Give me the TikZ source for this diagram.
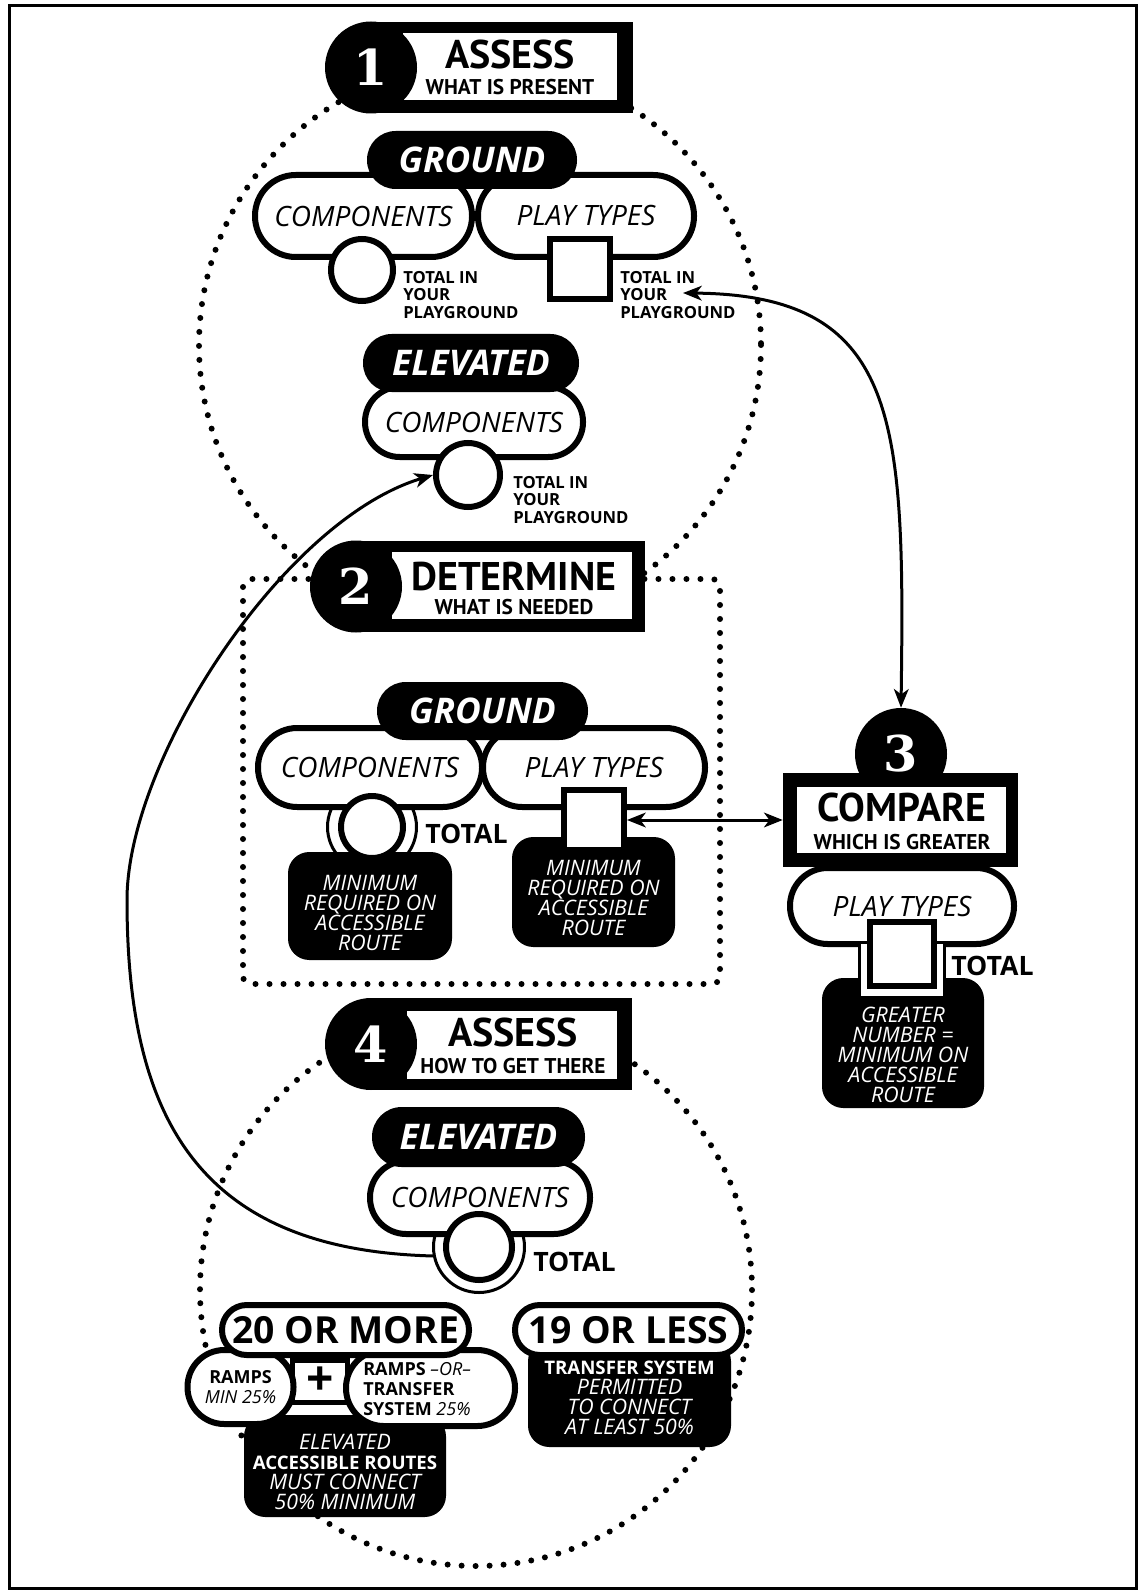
\documentclass[tikz,border=0pt]{standalone}
\usepackage{fontspec}
\setmainfont{Open Sans}
\newfontfamily\hdfont{PT Sans}
\newfontfamily\numfont{DejaVu Serif}
\usetikzlibrary{arrows.meta}

\begin{document}
\begin{tikzpicture}[x=0.75pt,y=0.75pt,yscale=-1,xscale=1,
  >={Stealth[length=14pt,width=11pt,inset=4pt]},
  dots/.style={line width=4.5pt, line cap=round, dash pattern=on 0pt off 10.5pt},
  conn/.style={line width=2.25pt},
  numdisc/.style={circle, fill=black, text=white, inner sep=0pt, minimum size=69pt, font=\numfont\bfseries\fontsize{37}{37}\selectfont},
  hdbig/.style={inner sep=0pt, font=\hdfont\bfseries\fontsize{30}{30}\selectfont},
  hdsub/.style={inner sep=0pt, font=\hdfont\bfseries\fontsize{16}{16}\selectfont},
  pillw/.style 2 args={rectangle, draw, fill=white, line width=4.5pt, inner sep=0pt, minimum width=#1, minimum height=#2, rounded corners=#2/2-0.2pt, font=\itshape\fontsize{21}{21}\selectfont},
  tag/.style 2 args={rectangle, fill=black, text=white, inner sep=0pt, minimum width=#1, minimum height=#2, rounded corners=#2/2-0.2pt, font=\bfseries\itshape\fontsize{26.5}{26.5}\selectfont},
  count/.style 2 args={pillw={#1}{#2}, font=\bfseries\fontsize{28}{28}\selectfont},
  dotc/.style={circle, draw, fill=white, line width=4.5pt, inner sep=0pt},
  ringc/.style={circle, draw, fill=white, line width=2.25pt, inner sep=0pt},
  boxw/.style={rectangle, draw, fill=white, line width=4.5pt, inner sep=0pt},
  notebox/.style={rectangle, fill=black, rounded corners=16pt, inner sep=0pt},
  note/.style={text=white, align=center, inner sep=0pt, font=\itshape\fontsize{16}{15}\selectfont},
  small/.style={anchor=north west, align=left, inner sep=0pt, font=\bfseries\fontsize{12.5}{13}\selectfont},
  total/.style={anchor=west, inner sep=0pt, font=\bfseries\fontsize{20}{20}\selectfont}]
\useasboundingbox (0,0) rectangle (1144,1594);

%Frame
\draw[line width=2.25pt] (9,6) rectangle (1136,1588);

%Dotted outlines
\draw[dots] (480,345) circle [radius=281];
\draw[dots, rounded corners=6pt] (243,579) rectangle (720,984);
\draw[dots] (476,1290) circle [radius=276];

%Header 1
\fill (371,22) rectangle (633,113);
\fill[white] (403,33) rectangle (617,100);
\node[numdisc] (n1) at (371,67.5) {1};
\node[hdbig] (hd1a) at (510,55) {ASSESS};
\node[hdsub] (hd1b) at (510,87.5) {WHAT IS PRESENT};

%Step 1 ground
\node[pillw={162.75pt}{61.5pt}] (gc1) at (363.5,216) {COMPONENTS};
\node[pillw={162pt}{61.5pt}] (gp1) at (586,216) {PLAY TYPES};
\node[tag={157.5pt}{43.5pt}] (g1) at (472,160) {GROUND};
\node[dotc, minimum size=46.5pt] (c1) at (362,270) {};
\node[boxw, minimum size=45pt] (sq1) at (580,269.5) {};
\node[small] (t1a) at (403,271) {TOTAL IN\\YOUR\\PLAYGROUND};
\node[small] (t1b) at (620,271) {TOTAL IN\\YOUR\\PLAYGROUND};
\coordinate (yourpt) at (683,293);

%Step 1 elevated
\node[pillw={163.5pt}{52.5pt}] (ec1p) at (474,422) {COMPONENTS};
\node[tag={162pt}{43.5pt}] (e1) at (471,363) {ELEVATED};
\node[dotc, minimum size=48pt] (ec1) at (468,475) {};
\node[small] (t1c) at (513,476) {TOTAL IN\\YOUR\\PLAYGROUND};

%Header 2
\fill (356,541) rectangle (645,632);
\fill[white] (392,552) rectangle (632,619);
\node[numdisc] (n2) at (356,586.5) {2};
\node[hdbig] (hd2a) at (514,577) {DETERMINE};
\node[hdsub] (hd2b) at (514,607) {WHAT IS NEEDED};

%Step 2
\node[ringc, minimum size=66.75pt] (r2) at (372,827) {};
\node[pillw={168pt}{59.25pt}] (gc2) at (370,767.5) {COMPONENTS};
\node[pillw={166.5pt}{59.25pt}] (gp2) at (594,767.5) {PLAY TYPES};
\node[tag={158.25pt}{43.5pt}] (g2) at (482.5,711) {GROUND};
\node[notebox, minimum width=123pt, minimum height=81pt] (b1) at (370,906) {};
\node[notebox, minimum width=122.25pt, minimum height=82.5pt] (b2) at (593.5,892) {};
\node[dotc, minimum size=46.5pt] (c2) at (372,827) {};
\node[boxw, minimum size=45pt] (sq2) at (594,820) {};
\node[total] (tot2) at (425,834) {TOTAL};
\node[note] (nt1) at (370,912.5) {MINIMUM\\REQUIRED ON\\ACCESSIBLE\\ROUTE};
\node[note] (nt2) at (593.5,897.5) {MINIMUM\\REQUIRED ON\\ACCESSIBLE\\ROUTE};

%Step 3
\node[numdisc] (n3) at (901,754) {3};
\node[rectangle, fill=black, inner sep=0pt, minimum width=176.25pt, minimum height=70.5pt] (cmp) at (900.5,820) {};
\node[rectangle, fill=white, inner sep=0pt, minimum width=156.75pt, minimum height=49.5pt] (cmpin) at (901.5,820) {};
\node[hdbig] (hd3a) at (902,807) {COMPARE};
\node[hdsub] (hd3b) at (902,842) {WHICH IS GREATER};
\node[pillw={168pt}{57pt}] (gp3) at (902,906) {PLAY TYPES};
\node[notebox, minimum width=121.5pt, minimum height=97.5pt] (b3) at (903,1043) {};
\filldraw[fill=white, line width=2.25pt] (859,944) -- (859,997) -- (944,997) -- (944,944);
\node[boxw, minimum size=48pt] (sq3) at (902,954) {};
\node[total] (tot3) at (951,966) {TOTAL};
\node[note] (nt3) at (903,1055) {GREATER\\NUMBER =\\MINIMUM ON\\ACCESSIBLE\\ROUTE};

%Header 4
\fill (371,998) rectangle (632,1090);
\fill[white] (407,1011) rectangle (617,1079);
\node[numdisc] (n4) at (371,1044) {4};
\node[hdbig] (hd4a) at (513,1032) {ASSESS};
\node[hdsub] (hd4b) at (513,1066) {HOW TO GET THERE};

%Step 4
\node[ringc, minimum size=68.25pt] (r4) at (479,1247) {};
\node[pillw={165pt}{54.75pt}] (ec4p) at (480,1197.5) {COMPONENTS};
\node[tag={159.75pt}{45pt}] (e4) at (478.5,1137) {ELEVATED};
\node[dotc, minimum size=49.5pt] (ec4) at (479,1247) {};
\node[total] (tot4) at (533,1262) {TOTAL};

%20 or more / 19 or less
\node[notebox, minimum width=151.5pt, minimum height=76.5pt] (b20) at (345,1466) {};
\node[notebox, minimum width=152.25pt, minimum height=80.25pt] (b19) at (629.5,1393.5) {};
\node[boxw, line width=3.75pt, minimum width=41.25pt, minimum height=31.5pt, font=\bfseries\fontsize{36}{36}\selectfont] (plus) at (320,1381.5) {+};
\node[pillw={79.5pt}{55.5pt}, align=center, font=\fontsize{13.5}{15}\selectfont] (ramp) at (240.5,1387) {\textbf{RAMPS}\\\textit{MIN 25\%}};
\node[pillw={126.75pt}{57pt}] (rampor) at (430.5,1388) {};
\node[count={185.25pt}{37.5pt}] (p20) at (345.5,1330) {20 OR MORE};
\node[count={170.25pt}{37.5pt}] (p19) at (628.5,1330) {19 OR LESS};
\node[anchor=west, align=left, inner sep=0pt, font=\bfseries\fontsize{13.5}{15}\selectfont] (rtxt) at (363,1389) {RAMPS \textit{\mdseries\textendash OR\textendash}\\TRANSFER\\SYSTEM \textit{\mdseries 25\%}};
\node[note] (nt20) at (345,1472) {ELEVATED\\{\upshape\bfseries\fontsize{14}{15}\selectfont ACCESSIBLE ROUTES}\\MUST CONNECT\\50\% MINIMUM};
\node[note] (nt19) at (629.5,1398) {{\upshape\bfseries\fontsize{14}{15}\selectfont TRANSFER SYSTEM}\\PERMITTED\\TO CONNECT\\AT LEAST 50\%};

%Connectors
\draw[conn, <->] (yourpt) .. controls (900,295) and (905,420) .. (n3.north);
\draw[conn, <->] (sq2) -- (cmp);
\draw[conn, ->] (r4.191) .. controls (200,1250) and (127,1120) .. (127,900) .. controls (127,760) and (283,520) .. (ec1.west);

\end{tikzpicture}
\end{document}
